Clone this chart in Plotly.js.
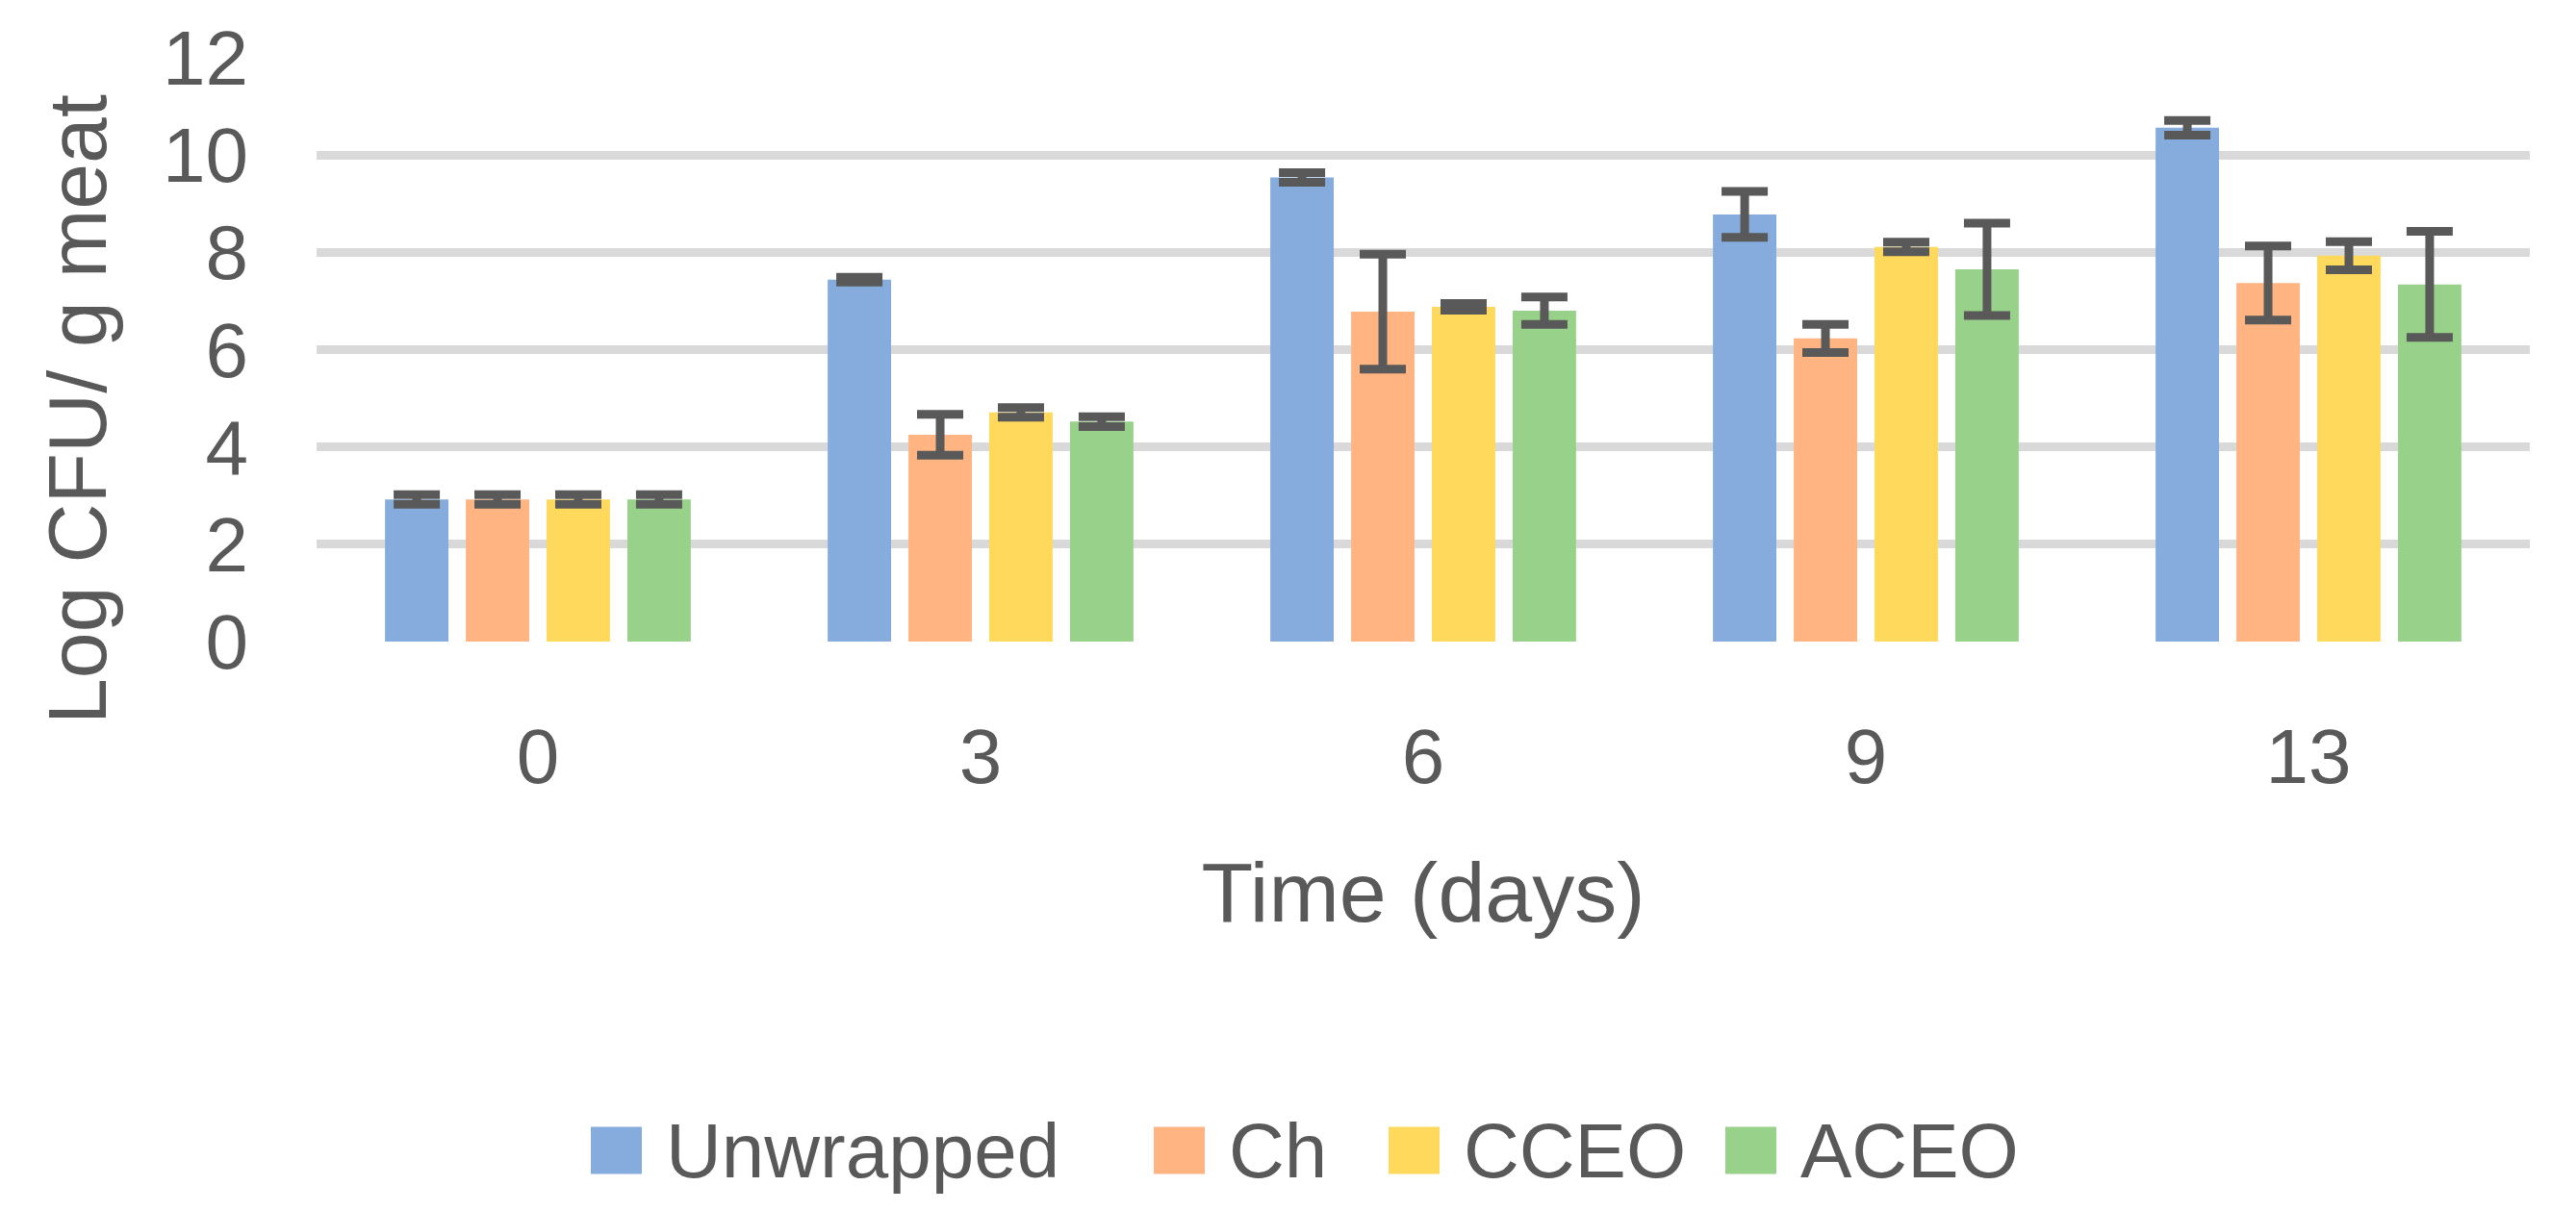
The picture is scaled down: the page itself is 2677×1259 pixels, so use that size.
<!DOCTYPE html>
<html>
<head>
<meta charset="utf-8">
<script src="https://cdn.plot.ly/plotly-3.0.1.min.js"></script>
<style>
html,body{margin:0;padding:0;background:#fff;}
#chart{width:2677px;height:1259px;}
</style>
</head>
<body>
<div id="chart"></div>
<script>
// ---- data ----
const days = ['0', '3', '6', '9', '13'];
const seriesNames = ['Unwrapped', 'Ch', 'CCEO', 'ACEO'];
const unwrapped    = [2.92, 7.44, 9.54, 8.78, 10.56];
const unwrappedErr = [0.10, 0.05, 0.10, 0.47, 0.15];
const ch           = [2.92, 4.25, 6.78, 6.23, 7.37];
const chErr        = [0.10, 0.42, 1.18, 0.29, 0.76];
const cceo         = [2.92, 4.71, 6.88, 8.11, 7.93];
const cceoErr      = [0.10, 0.10, 0.07, 0.10, 0.29];
const aceo         = [2.92, 4.52, 6.80, 7.65, 7.34];
const aceoErr      = [0.10, 0.10, 0.28, 0.95, 1.09];
const yTickVals = [0, 2, 4, 6, 8, 10, 12];
const xTitle = 'Time (days)';
const yTitle = 'Log CFU/ g meat';

// ---- style ----
const colors = ['#85ACDD', '#FFB482', '#FFD95C', '#98D28A'];
const txt = '#595959';
const FONT = '"Liberation Sans Narrow", "Liberation Sans", Arial, sans-serif';
const W = 2677, H = 1259;
const M = {l: 329, r: 48, t: 60, b: 592};

const values = [unwrapped, ch, cceo, aceo];
const errs = [unwrappedErr, chErr, cceoErr, aceoErr];

const traces = seriesNames.map((name, i) => ({
  type: 'bar',
  name: name,
  x: days,
  y: values[i],
  marker: {color: colors[i], line: {width: 0}},
  error_y: {type: 'data', array: errs[i], visible: true, color: txt, thickness: 9, width: 24},
  showlegend: false,
  hoverinfo: 'x+y+name'
}));

// custom legend (large swatches like the original)
const legendPx = [614, 1199, 1443, 1793];   // left edge of each swatch in pixels
const sw = 53, swH = 49, legendCy = 1196, textGap = 23;
const pw = W - M.l - M.r, ph = H - M.t - M.b;
const px2x = p => (p - M.l) / pw;
const py2y = p => (H - M.b - p) / ph;

const shapes = [];
const annotations = [];
seriesNames.forEach((name, i) => {
  shapes.push({
    type: 'rect', xref: 'paper', yref: 'paper',
    x0: px2x(legendPx[i]), x1: px2x(legendPx[i] + sw),
    y0: py2y(legendCy + swH / 2), y1: py2y(legendCy - swH / 2),
    fillcolor: colors[i], line: {width: 0}
  });
  annotations.push({
    xref: 'paper', yref: 'paper',
    x: px2x(legendPx[i] + sw + textGap), y: py2y(legendCy),
    xanchor: 'left', yanchor: 'middle',
    text: name, showarrow: false,
    font: {family: FONT, size: 80, color: txt}
  });
});

// y-axis title (placed like the original, slightly below the axis centre)
annotations.push({
  xref: 'paper', yref: 'paper',
  x: px2x(80), y: py2y(426),
  xanchor: 'center', yanchor: 'middle',
  textangle: -90,
  text: yTitle, showarrow: false,
  font: {family: FONT, size: 86, color: txt}
});

const layout = {
  width: W, height: H,
  margin: M,
  paper_bgcolor: '#fff', plot_bgcolor: '#fff',
  barmode: 'group',
  bargap: 0.27,
  bargroupgap: 0.215,
  font: {family: FONT, color: txt},
  xaxis: {
    type: 'category',
    showgrid: false, showline: false, zeroline: false,
    ticks: '',
    ticklabelstandoff: 66,
    tickfont: {family: FONT, size: 80, color: txt},
    title: {text: xTitle, font: {family: FONT, size: 88, color: txt}, standoff: 66},
    automargin: false
  },
  yaxis: {
    range: [0, 12],
    tickvals: yTickVals,
    showgrid: true, gridcolor: '#D9D9D9', gridwidth: 9,
    zeroline: false, showline: false,
    ticks: '',
    ticklabelstandoff: 70,
    tickfont: {family: FONT, size: 80, color: txt},
    automargin: false
  },
  shapes: shapes,
  annotations: annotations,
  showlegend: false
};

Plotly.newPlot('chart', traces, layout, {displayModeBar: false, staticPlot: true});
</script>
</body>
</html>
